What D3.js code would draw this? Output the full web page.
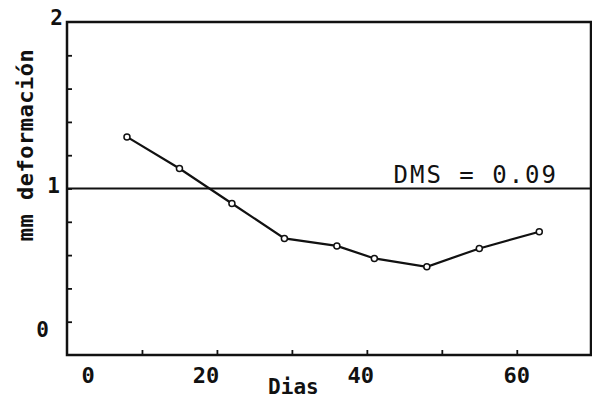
<!DOCTYPE html>
<html>
<head>
<meta charset="utf-8">
<script src="https://cdn.jsdelivr.net/npm/d3@7"></script>
<style>
  body { margin: 0; background: #fff; }
  text { font-family: "DejaVu Sans Mono", "Liberation Mono", monospace; fill: #111; }
</style>
</head>
<body>
<div class="chart"></div>
<script>
// Data
var days = [8, 15, 22, 29, 36, 41, 48, 55, 63];
var deformation = [1.31, 1.12, 0.91, 0.70, 0.655, 0.58, 0.53, 0.64, 0.74];
var dmsValue = 1;           // level of the horizontal reference line
var dmsLabel = "DMS = 0.09";
var xTickLabels = [0, 20, 40, 60];
var yTickLabels = [0, 1, 2];
var xLabel = "Dias";
var yLabel = "mm deformación";

var cfg = {
  w: 592,
  h: 400,
  margin: { top: 22, right: 1, bottom: 45, left: 67 },
  ink: "#111"
};
var width = cfg.w - cfg.margin.left - cfg.margin.right,
  height = cfg.h - cfg.margin.top - cfg.margin.bottom;

var svg = d3.select(".chart").append("svg")
  .attr("width", cfg.w)
  .attr("height", cfg.h);
var g = svg.append("g")
  .attr("transform", "translate(" + cfg.margin.left + "," + cfg.margin.top + ")");

var xScale = d3.scaleLinear().domain([0, 69.9]).range([0, width]);
var yScale = d3.scaleLinear().domain([0, 2]).range([height, 0]);

// small inward ticks, every 10 days / every 0.2 mm
var xAxis = g.append("g")
  .attr("transform", "translate(0," + height + ")")
  .call(d3.axisBottom(xScale).tickValues(d3.range(10, 70, 10)).tickSize(-5).tickFormat(""));
var yAxis = g.append("g")
  .call(d3.axisLeft(yScale).tickValues(d3.range(0.2, 2, 0.2)).tickSize(-5).tickFormat(""));
g.selectAll(".domain").remove();
g.selectAll(".tick line").attr("stroke", cfg.ink).attr("stroke-width", 1.8);

// frame
g.append("rect")
  .attr("width", width)
  .attr("height", height)
  .attr("fill", "none")
  .attr("stroke", cfg.ink)
  .attr("stroke-width", 2.5);

// tick labels (the scan sits a few of them off their ticks)
var xShift = { 0: 21, 20: -11, 40: -6, 60: 0 };
g.selectAll(".xlab")
  .data(xTickLabels)
  .enter().append("text")
  .attr("class", "xlab")
  .attr("x", function (d) { return xScale(d) + xShift[d]; })
  .attr("y", height + 28)
  .attr("text-anchor", "middle")
  .style("font-size", "22px")
  .style("font-weight", "bold")
  .text(function (d) { return d; });

var yShift = { 0: -25, 1: -3, 2: -4 };
var yDx = { 0: -18, 1: -7, 2: -4 };
g.selectAll(".ylab")
  .data(yTickLabels)
  .enter().append("text")
  .attr("class", "ylab")
  .attr("x", function (d) { return yDx[d]; })
  .attr("y", function (d) { return yScale(d) + yShift[d]; })
  .attr("dy", "0.35em")
  .attr("text-anchor", "end")
  .style("font-size", "21px")
  .style("font-weight", "bold")
  .text(function (d) { return d; });

// axis titles
g.append("text")
  .attr("x", xScale(30.2))
  .attr("y", height + 39)
  .attr("text-anchor", "middle")
  .style("font-size", "21px")
  .style("font-weight", "bold")
  .text(xLabel);

g.append("text")
  .attr("transform", "translate(" + (33 - cfg.margin.left) + "," + (145 - cfg.margin.top) + ") rotate(-90)")
  .attr("text-anchor", "middle")
  .style("font-size", "22px")
  .style("font-weight", "bold")
  .style("letter-spacing", "0.5px")
  .text(yLabel);

// DMS reference line
g.append("line")
  .attr("x1", 0)
  .attr("x2", width)
  .attr("y1", yScale(dmsValue))
  .attr("y2", yScale(dmsValue))
  .attr("stroke", cfg.ink)
  .attr("stroke-width", 2.2);
g.append("text")
  .attr("x", width - 33)
  .attr("y", yScale(dmsValue) - 6)
  .attr("text-anchor", "end")
  .style("font-size", "24px")
  .style("letter-spacing", "2px")
  .text(dmsLabel);

// the series
var points = days.map(function (d, i) { return { x: d, y: deformation[i] }; });
var line = d3.line()
  .x(function (d) { return xScale(d.x); })
  .y(function (d) { return yScale(d.y); });
g.append("path")
  .datum(points)
  .attr("d", line)
  .attr("fill", "none")
  .attr("stroke", cfg.ink)
  .attr("stroke-width", 2.2);
g.selectAll(".pt")
  .data(points)
  .enter().append("circle")
  .attr("class", "pt")
  .attr("cx", function (d) { return xScale(d.x); })
  .attr("cy", function (d) { return yScale(d.y); })
  .attr("r", 3)
  .attr("fill", "#fff")
  .attr("stroke", cfg.ink)
  .attr("stroke-width", 1.5);
</script>
</body>
</html>
